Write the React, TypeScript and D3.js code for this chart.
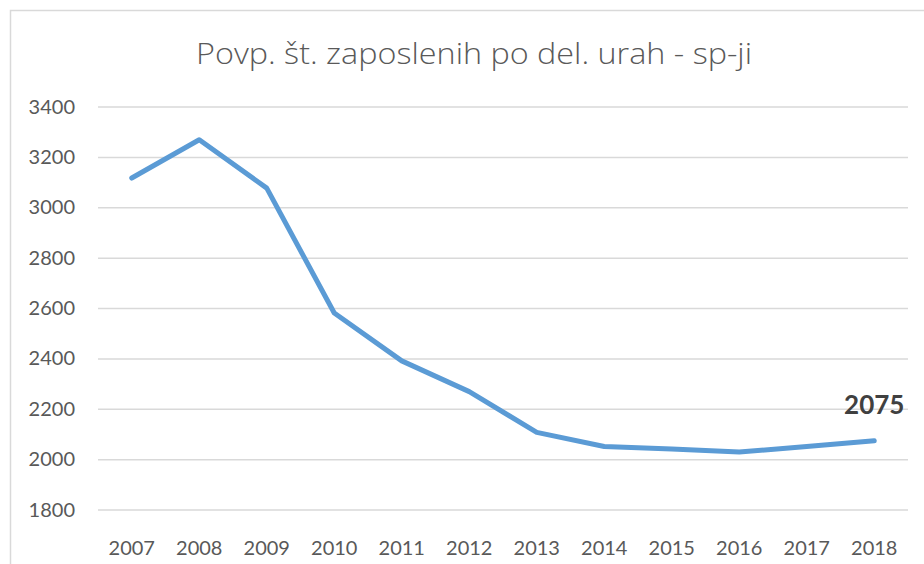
import React from "react";
import * as d3 from "d3";

const years = ["2007","2008","2009","2010","2011","2012","2013","2014","2015","2016","2017","2018"];
const values = [3118, 3270, 3078, 2582, 2392, 2270, 2108, 2052, 2042, 2030, 2052, 2075];
const yTicks = [1800, 2000, 2200, 2400, 2600, 2800, 3000, 3200, 3400];
const title = "Povp. št. zaposlenih po del. urah - sp-ji";
const lastLabel = "2075";

const W = 924, H = 564;
const FONT = "Lato, 'Open Sans', sans-serif";
const TITLE_FONT = "'Open Sans', Lato, sans-serif";

export default function App() {
  const x = d3.scaleBand<string>().domain(years).range([98, 908]);
  const y = d3.scaleLinear().domain([1800, 3400]).range([510, 107]);
  const line = d3.line<number>()
    .x((_, i) => (x(years[i]) as number) + x.bandwidth() / 2)
    .y((d) => y(d));
  const lastX = (x(years[years.length - 1]) as number) + x.bandwidth() / 2;
  const lastY = y(values[values.length - 1]);
  return (
    <svg width={W} height={H} style={{ position: "absolute", left: 0, top: 0, background: "#fff" }}>
      <rect x={10.5} y={10.5} width={W + 10} height={H + 10} fill="#fff" stroke="#d9d9d9" strokeWidth={1.5} />
      <text x={474} y={64} textAnchor="middle" fontFamily={TITLE_FONT} fontSize={29} fontWeight={300} fill="#595959" textLength={556} lengthAdjust="spacingAndGlyphs">{title}</text>
      {yTicks.map((t) => (
        <g key={t}>
          <line x1={98} x2={908} y1={y(t)} y2={y(t)} stroke="#d9d9d9" strokeWidth={1.5} />
          <text x={75} y={y(t) + 6.5} textAnchor="end" fontFamily={FONT} fontSize={20} fill="#595959">{t}</text>
        </g>
      ))}
      {years.map((yr) => (
        <text key={yr} x={(x(yr) as number) + x.bandwidth() / 2} y={555} textAnchor="middle" fontFamily={FONT} fontSize={20} fill="#595959">{yr}</text>
      ))}
      <path d={line(values) || ""} fill="none" stroke="#5b9bd5" strokeWidth={5} strokeLinecap="round" strokeLinejoin="round" />
      <text x={lastX} y={lastY - 27} textAnchor="middle" fontFamily={FONT} fontSize={26} fontWeight="bold" fill="#404040">{lastLabel}</text>
    </svg>
  );
}
